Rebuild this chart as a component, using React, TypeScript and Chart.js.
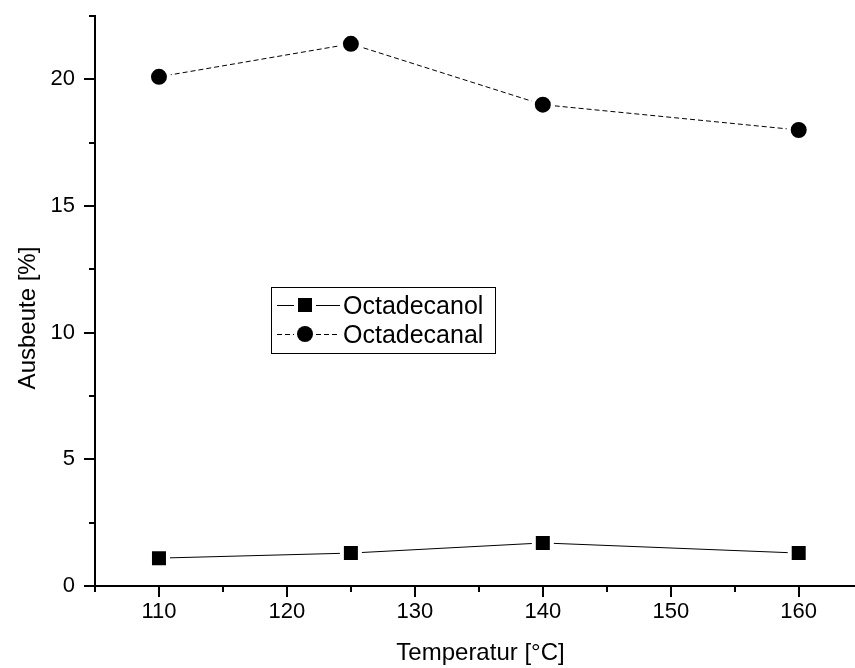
import React, { useEffect, useRef } from "react";
import { Chart, registerables } from "chart.js";

Chart.register(...registerables);

const temperatures = [110, 125, 140, 160];
const octadecanol = [1.1, 1.3, 1.7, 1.3];
const octadecanal = [20.1, 21.4, 19.0, 18.0];
const seriesLabels = ["Octadecanol", "Octadecanal"];
const xMajorTicks = [110, 120, 130, 140, 150, 160];
const xMinorTicks = [105, 115, 125, 135, 145, 155];
const yMajorTicks = [0, 5, 10, 15, 20];
const yMinorTicks = [2.5, 7.5, 12.5, 17.5, 22.5];
const xTitle = "Temperatur [°C]";
const yTitle = "Ausbeute [%]";

const FONT = "'Liberation Sans', Arial, Helvetica, sans-serif";

const decorPlugin = {
  id: "decor",
  afterDraw(chart: any) {
    const ctx = chart.ctx as CanvasRenderingContext2D;
    const xs = chart.scales.x;
    const ys = chart.scales.y;
    const ca = chart.chartArea;
    ctx.save();
    ctx.strokeStyle = "#000";
    ctx.lineWidth = 2;
    const seg = (x1: number, y1: number, x2: number, y2: number) => {
      ctx.beginPath();
      ctx.moveTo(x1, y1);
      ctx.lineTo(x2, y2);
      ctx.stroke();
    };
    // x ticks
    xMajorTicks.forEach((v) => {
      const px = Math.round(xs.getPixelForValue(v));
      seg(px, ca.bottom, px, ca.bottom + 11);
    });
    xMinorTicks.forEach((v) => {
      const px = Math.round(xs.getPixelForValue(v));
      seg(px, ca.bottom, px, ca.bottom + 6);
    });
    // y ticks
    yMajorTicks.forEach((v) => {
      const py = Math.round(ys.getPixelForValue(v));
      seg(ca.left, py, ca.left - 11, py);
    });
    yMinorTicks.forEach((v) => {
      const py = Math.round(ys.getPixelForValue(v));
      seg(ca.left, py, ca.left - 6, py);
    });

    // axis titles
    ctx.fillStyle = "#000";
    ctx.font = `24px ${FONT}`;
    ctx.textAlign = "center";
    ctx.textBaseline = "alphabetic";
    ctx.fillText(xTitle, ca.left + 385.5, ca.bottom + 74);
    ctx.save();
    ctx.translate(35, ca.top + 302);
    ctx.rotate(-Math.PI / 2);
    ctx.fillText(yTitle, 0, 0);
    ctx.restore();

    // legend
    const bx = ca.left + 176.5;
    const by = ca.top + 271.5;
    ctx.lineWidth = 1;
    ctx.strokeRect(bx, by, 224, 66);
    const rows = [
      { y: by + 17.5, dash: [] as number[], shape: "rect", label: seriesLabels[0] },
      { y: by + 46.5, dash: [5, 3], shape: "circle", label: seriesLabels[1] },
    ];
    rows.forEach((r) => {
      const lx1 = bx + 5.5;
      const lx2 = bx + 68.5;
      const mx = bx + 33.5;
      const ly = Math.floor(r.y) + 0.5;
      ctx.setLineDash(r.dash);
      ctx.lineWidth = 1;
      seg(lx1, ly, mx - 11, ly);
      seg(mx + 11, ly, lx2, ly);
      ctx.setLineDash([]);
      ctx.fillStyle = "#000";
      if (r.shape === "rect") {
        ctx.fillRect(mx - 7, r.y - 7, 14, 14);
      } else {
        ctx.beginPath();
        ctx.arc(mx, r.y, 8, 0, Math.PI * 2);
        ctx.fill();
      }
      ctx.font = `25px ${FONT}`;
      ctx.textAlign = "left";
      ctx.textBaseline = "alphabetic";
      ctx.fillText(r.label, bx + 71.5, r.y + 8.5);
    });
    ctx.restore();
  },
};

export default function App() {
  const canvasRef = useRef<HTMLCanvasElement | null>(null);

  useEffect(() => {
    const canvas = canvasRef.current;
    if (!canvas) return;
    const chart = new Chart(canvas, {
      type: "scatter",
      data: {
        datasets: [
          {
            label: seriesLabels[0],
            data: temperatures.map((t, i) => ({ x: t, y: octadecanol[i] })),
            showLine: true,
            borderColor: "#000",
            borderWidth: 1,
            pointStyle: "rect",
            pointRadius: 12.73,
            pointBackgroundColor: "#000",
            pointBorderColor: "#fff",
            pointBorderWidth: 4,
          },
          {
            label: seriesLabels[1],
            data: temperatures.map((t, i) => ({ x: t, y: octadecanal[i] })),
            showLine: true,
            borderColor: "#000",
            borderWidth: 1,
            borderDash: [5, 3],
            pointStyle: "circle",
            pointRadius: 10,
            pointBackgroundColor: "#000",
            pointBorderColor: "#fff",
            pointBorderWidth: 4,
          },
        ],
      },
      options: {
        responsive: false,
        animation: false,
        layout: { autoPadding: false, padding: { top: 16, right: 0, left: 0, bottom: 0 } },
        plugins: {
          legend: { display: false },
          tooltip: { enabled: false },
        },
        scales: {
          x: {
            type: "linear",
            min: 105,
            max: 164.4,
            afterBuildTicks: (scale: any) => {
              scale.ticks = xMajorTicks.map((v) => ({ value: v }));
            },
            afterFit: (scale: any) => {
              scale.height = 82;
              scale.paddingLeft = 0;
              scale.paddingRight = 0;
              scale.paddingTop = 0;
              scale.paddingBottom = 0;
            },
            grid: { display: false, drawTicks: false, tickLength: 0 },
            border: { display: true, color: "#000", width: 2 },
            ticks: {
              color: "#000",
              font: { family: FONT, size: 22 },
              padding: 13,
              maxRotation: 0,
              autoSkip: false,
            },
          },
          y: {
            type: "linear",
            min: 0,
            max: 22.5,
            afterBuildTicks: (scale: any) => {
              scale.ticks = yMajorTicks.map((v) => ({ value: v }));
            },
            afterFit: (scale: any) => {
              scale.width = 95;
              scale.paddingLeft = 0;
              scale.paddingRight = 0;
              scale.paddingTop = 0;
              scale.paddingBottom = 0;
            },
            grid: { display: false, drawTicks: false, tickLength: 0 },
            border: { display: true, color: "#000", width: 2 },
            ticks: {
              color: "#000",
              font: { family: FONT, size: 22 },
              padding: 20,
              autoSkip: false,
            },
          },
        },
      },
      plugins: [decorPlugin],
    });
    return () => chart.destroy();
  }, []);

  return (
    <div style={{ position: "absolute", left: 0, top: 0, width: 855, height: 668, background: "#fff" }}>
      <canvas ref={canvasRef} width={855} height={668} />
    </div>
  );
}
